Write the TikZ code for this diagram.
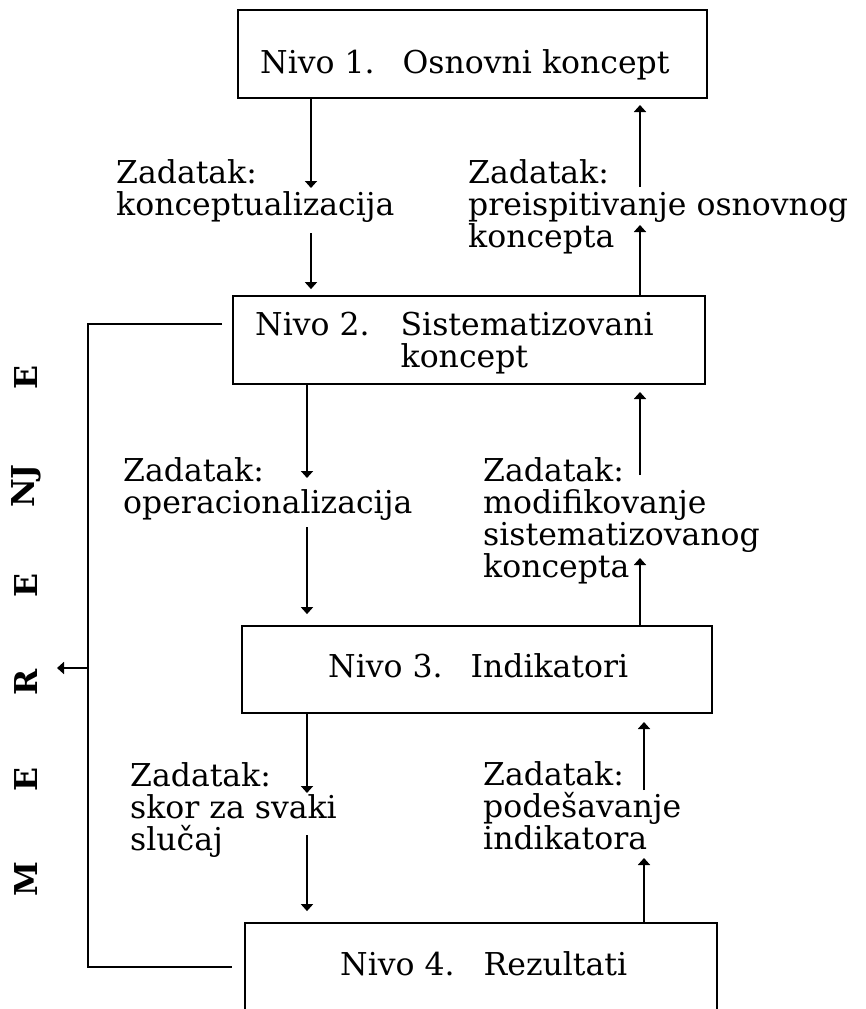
\documentclass[tikz,border=0pt]{standalone}
\usepackage{fontspec}
\setmainfont{DejaVu Serif}
\usetikzlibrary{arrows.meta}
\begin{document}
\begin{tikzpicture}[x=1pt, y=-1pt,
  box/.style={draw, line width=1.8pt, inner sep=0pt},
  txt/.style={anchor=base west, inner sep=0pt, align=left,
              font=\fontsize{31.5}{32}\selectfont},
  vert/.style={rotate=90, inner sep=0pt,
               font=\fontsize{31.5}{32}\selectfont\bfseries},
  link/.style={line width=1.8pt},
  arr/.style={line width=1.8pt, -{Triangle[width=12pt,length=7pt]}}]

\useasboundingbox (0,0) rectangle (865,1009);
\clip (0,0) rectangle (865,1009);

% level boxes
\node[box, minimum width=469pt, minimum height=88pt] (b1) at (472.5,54) {};
\node[box, minimum width=472pt, minimum height=88pt] (b2) at (469,340) {};
\node[box, minimum width=470pt, minimum height=87pt] (b3) at (477,669.5) {};
\node[box, minimum width=472pt, minimum height=117pt] (b4) at (481,981.5) {};

% box texts (a multi-line node sits on the baseline of its last line)
\node[txt] (b1t) at (260,73) {Nivo 1.\hskip 28pt Osnovni koncept};
\node[txt] (b2t) at (255,367) {Nivo 2.\hskip 31pt Sistematizovani\\
  \phantom{Nivo 2.}\hskip 31pt koncept};
\node[txt] (b3t) at (328,677) {Nivo 3.\hskip 28pt Indikatori};
\node[txt] (b4t) at (340,975) {Nivo 4.\hskip 29pt Rezultati};

% task labels
\node[txt] (l1) at (116,215) {Zadatak:\\konceptualizacija};
\node[txt] (r1) at (468,247) {Zadatak:\\preispitivanje osnovnog\\koncepta};
\node[txt] (l2) at (123,513) {Zadatak:\\operacionalizacija};
\node[txt] (r2) at (483,577) {Zadatak:\\modifikovanje\\sistematizovanog\\koncepta};
\node[txt] (l3) at (130,850) {Zadatak:\\skor za svaki\\slučaj};
\node[txt] (r3) at (483,849) {Zadatak:\\podešavanje\\indikatora};

% break points of the arrows around the labels
\coordinate (d1a) at (311,188); \coordinate (d1b) at (311,233);
\coordinate (u1a) at (640,105); \coordinate (u1b) at (640,187);
\coordinate (u1c) at (640,225);
\coordinate (d2a) at (307,478); \coordinate (d2b) at (307,527);
\coordinate (u2a) at (640,392); \coordinate (u2b) at (640,475);
\coordinate (u2c) at (640,558);
\coordinate (d3a) at (307,793); \coordinate (d3b) at (307,835);
\coordinate (u3a) at (644,722); \coordinate (u3b) at (644,790);
\coordinate (u3c) at (644,858);

% downward flow
\draw[arr] (b1.south -| d1a) -- (d1a);
\draw[arr, shorten >=6pt] (d1b) -- (b2.north -| d1b);
\draw[arr] (b2.south -| d2a) -- (d2a);
\draw[arr, shorten >=11pt] (d2b) -- (b3.north -| d2b);
\draw[arr] (b3.south -| d3a) -- (d3a);
\draw[arr, shorten >=11pt] (d3b) -- (b4.north -| d3b);

% upward flow
\draw[arr] (u1b) -- (u1a);
\draw[arr] (b2.north -| u1c) -- (u1c);
\draw[arr] (u2b) -- (u2a);
\draw[arr] (b3.north -| u2c) -- (u2c);
\draw[arr] (u3b) -- (u3a);
\draw[arr] (b4.north -| u3c) -- (u3c);

% measurement loop on the left
\coordinate (fbt) at (88,324);
\coordinate (fbb) at (88,967);
\coordinate (fbm) at (88,668);
\coordinate (fbtip) at (57,668);
\draw[link, shorten <=10pt, shorten >=12pt]
  (b2.west |- fbt) -- (fbt) -- (fbb) -- (b4.west |- fbb);
\draw[arr] (fbm) -- (fbtip);

% vertical caption
\node[vert] (m1) at (26,879) {M};
\node[vert] (m2) at (26,779) {E};
\node[vert] (m3) at (26,682) {R};
\node[vert] (m4) at (26,585) {E};
\node[vert] (m5) at (26,486) {NJ};
\node[vert] (m6) at (26,377) {E};

\end{tikzpicture}
\end{document}
